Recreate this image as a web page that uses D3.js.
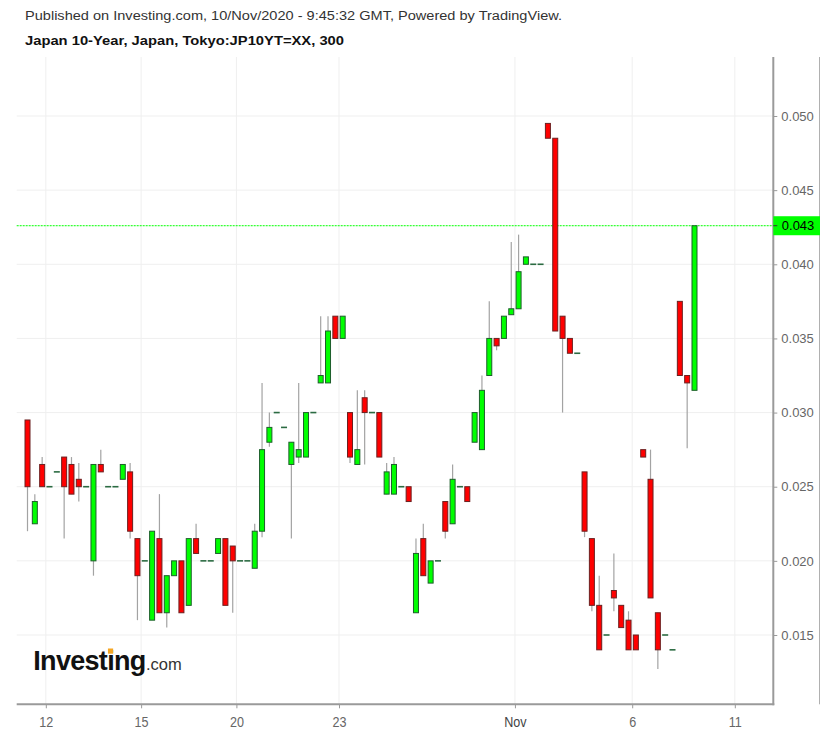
<!DOCTYPE html>
<html><head><meta charset="utf-8">
<script src="https://cdn.jsdelivr.net/npm/d3@7"></script>
<style>
body{margin:0;background:#fff}
svg{display:block;font-family:"Liberation Sans",Arial,Helvetica,sans-serif}
</style>
</head><body>
<svg id="chart" width="820" height="733"></svg>
<script>
// 300-minute candles, JP10YT=XX (index-based positions like TradingView)
const opens  = [0.0295,0.0225,0.0265,0.025,0.026,0.027,0.0265,0.0255,0.025,0.020,
                0.0265,0.025,0.025,0.0255,0.026,0.0215,0.020,0.016,0.0215,0.0165,
                0.019,0.020,0.017,0.0215,0.020,0.020,0.0205,0.0215,0.021,0.020,
                0.020,0.0195,0.022,0.028,0.030,0.029,0.0265,0.027,0.027,0.030,
                0.032,0.032,0.0365,0.035,0.030,0.0265,0.031,0.030,0.030,0.0245,
                0.0245,0.025,0.025,0.0165,0.0215,0.0185,0.020,0.024,0.0225,0.025,
                0.025,0.028,0.0275,0.0325,0.035,0.035,0.0366,0.037,0.040,0.040,
                0.040,0.0495,0.0485,0.0365,0.035,0.034,0.026,0.0215,0.017,0.015,
                0.018,0.017,0.016,0.015,0.0275,0.0255,0.0165,0.015,0.014,0.0375,
                0.0325,0.0315];
const highs  = [0.0295,0.0245,0.027,0.025,0.026,0.027,0.027,0.0266,0.025,0.0265,
                0.0275,0.025,0.025,0.0265,0.0266,0.0215,0.020,0.022,0.0245,0.019,
                0.020,0.020,0.0215,0.0225,0.020,0.020,0.0215,0.0215,0.021,0.020,
                0.020,0.0225,0.032,0.030,0.030,0.029,0.028,0.032,0.030,0.030,
                0.0365,0.0365,0.0365,0.0365,0.030,0.0315,0.0315,0.030,0.030,0.0266,
                0.027,0.025,0.025,0.0215,0.0225,0.020,0.020,0.024,0.0265,0.025,
                0.025,0.030,0.0325,0.0375,0.035,0.0365,0.0415,0.042,0.0405,0.040,
                0.040,0.0495,0.0485,0.0365,0.035,0.034,0.026,0.0215,0.019,0.015,
                0.0205,0.017,0.0166,0.015,0.0275,0.0275,0.0165,0.015,0.014,0.0375,
                0.0325,0.0426];
const lows   = [0.022,0.0225,0.025,0.025,0.026,0.0215,0.0245,0.024,0.025,0.019,
                0.026,0.025,0.025,0.0255,0.0215,0.016,0.020,0.016,0.0165,0.0155,
                0.019,0.0165,0.017,0.0205,0.020,0.020,0.0205,0.017,0.0165,0.020,
                0.020,0.0195,0.0216,0.0277,0.030,0.029,0.0215,0.0266,0.027,0.030,
                0.032,0.032,0.035,0.035,0.0266,0.0265,0.0265,0.030,0.027,0.0245,
                0.0245,0.025,0.024,0.0165,0.019,0.0185,0.020,0.0215,0.0225,0.025,
                0.024,0.028,0.0275,0.0325,0.0342,0.035,0.0366,0.037,0.040,0.040,
                0.040,0.0485,0.0355,0.030,0.034,0.034,0.0216,0.0166,0.014,0.015,
                0.0166,0.0155,0.014,0.014,0.027,0.0175,0.0127,0.015,0.014,0.0325,
                0.0276,0.0315];
const closes = [0.025,0.024,0.025,0.025,0.026,0.025,0.0245,0.025,0.025,0.0265,
                0.026,0.025,0.025,0.0265,0.022,0.019,0.020,0.022,0.0165,0.019,
                0.020,0.0165,0.0215,0.0205,0.020,0.020,0.0215,0.017,0.020,0.020,
                0.020,0.022,0.0275,0.029,0.030,0.029,0.028,0.0275,0.030,0.030,
                0.0325,0.0355,0.035,0.0365,0.027,0.0275,0.030,0.030,0.027,0.026,
                0.0265,0.025,0.024,0.0205,0.019,0.020,0.020,0.022,0.0255,0.025,
                0.024,0.030,0.0315,0.035,0.0345,0.0365,0.037,0.0395,0.0405,0.040,
                0.040,0.0485,0.0355,0.035,0.034,0.034,0.022,0.017,0.014,0.015,
                0.0175,0.0155,0.014,0.014,0.027,0.0175,0.014,0.015,0.014,0.0325,
                0.032,0.0426];

const xTickLabels = ["12","15","20","23","Nov","6","11"];
const xTickIndex  = [2.5,15.5,28.5,42.5,66.5,82.5,96.5];
const yTickValues = [0.015,0.020,0.025,0.030,0.035,0.040,0.045,0.050];

const headerLine1 = "Published on Investing.com, 10/Nov/2020 - 9:45:32 GMT, Powered by TradingView.";
const headerLine2 = "Japan 10-Year, Japan, Tokyo:JP10YT=XX, 300";

const candles = opens.map((o,i)=>({i, o, h:highs[i], l:lows[i], c:closes[i]}));

const svg = d3.select("#chart");
const plot = {left:16.7, right:773.3, top:57, bottom:704.3};

const x = d3.scaleLinear().domain([0, candles.length-1]).range([27.5, 694.5]);
const y = d3.scaleLinear().domain([0.015, 0.050]).range([635, 116]);

svg.append("rect").attr("width",820).attr("height",733).attr("fill","#fff");

// header
svg.append("text").attr("x",25).attr("y",19.5).attr("font-size",12.5).attr("fill","#333")
  .attr("textLength",537).attr("lengthAdjust","spacingAndGlyphs").text(headerLine1);
svg.append("text").attr("x",25).attr("y",44.5).attr("font-size",12).attr("font-weight","bold").attr("fill","#111")
  .attr("textLength",319).attr("lengthAdjust","spacingAndGlyphs").text(headerLine2);

// grid
const grid = svg.append("g");
grid.selectAll("line.h").data(yTickValues).join("line")
  .attr("x1",plot.left).attr("x2",plot.right)
  .attr("y1",d=>y(d)).attr("y2",d=>y(d))
  .attr("stroke","#efefef").attr("stroke-width",1);
grid.selectAll("line.v").data(xTickIndex).join("line")
  .attr("x1",d=>x(d)).attr("x2",d=>x(d))
  .attr("y1",plot.top).attr("y2",plot.bottom)
  .attr("stroke","#efefef").attr("stroke-width",1);

// logo
const logo = svg.append("g");
const inv = logo.append("text").attr("x",33.3).attr("y",669.5).attr("font-size",27)
  .attr("font-weight","bold").attr("letter-spacing",-0.7).attr("fill","#111").text("Investing");
const invLen = inv.node().getComputedTextLength();
logo.append("text").attr("x",33.3+invLen+0.5).attr("y",669.5).attr("font-size",16.5)
  .attr("fill","#333").text(".com");
try {
  const ext = inv.node().getExtentOfChar(6);
  logo.append("rect").attr("x",ext.x+ext.width/2-2.6).attr("y",648.5).attr("width",5.2).attr("height",5.2)
    .attr("fill","#f5a623");
} catch(e) {}

// current price line
const last = candles[candles.length-1];
svg.append("line").attr("x1",plot.left).attr("x2",plot.right)
  .attr("y1",y(last.c)).attr("y2",y(last.c))
  .attr("stroke","#00ff00").attr("stroke-width",1).attr("stroke-dasharray","2,1");

// candles
const g = svg.append("g");
const bw = 5;
const regular = candles.filter(d=>d.o!==d.c);
const dojis = candles.filter(d=>d.o===d.c);
g.selectAll("line.wick").data(regular.filter(d=>d.h>Math.max(d.o,d.c)||d.l<Math.min(d.o,d.c))).join("line")
  .attr("x1",d=>x(d.i)).attr("x2",d=>x(d.i))
  .attr("y1",d=>y(d.h)).attr("y2",d=>y(d.l))
  .attr("stroke","#a3a3a3").attr("stroke-width",1.2);
g.selectAll("rect.body").data(regular).join("rect")
  .attr("x",d=>x(d.i)-bw/2)
  .attr("y",d=>y(Math.max(d.o,d.c)))
  .attr("width",bw)
  .attr("height",d=>Math.max(1,Math.abs(y(d.o)-y(d.c))))
  .attr("fill",d=>d.c>d.o?"#00ff00":"#ff0000")
  .attr("stroke",d=>d.c>d.o?"#1d5e2b":"#6b2020")
  .attr("stroke-width",1);
g.selectAll("line.doji").data(dojis).join("line")
  .attr("x1",d=>x(d.i)-3).attr("x2",d=>x(d.i)+3)
  .attr("y1",d=>y(d.c)).attr("y2",d=>y(d.c))
  .attr("stroke","#2b6b42").attr("stroke-width",1.6);

// axes lines
svg.append("line").attr("x1",plot.left).attr("x2",plot.right+1).attr("y1",plot.bottom).attr("y2",plot.bottom)
  .attr("stroke","#9a9a9a").attr("stroke-width",2);
svg.append("line").attr("x1",plot.right).attr("x2",plot.right).attr("y1",plot.top).attr("y2",plot.bottom+1)
  .attr("stroke","#9a9a9a").attr("stroke-width",2);
svg.append("line").attr("x1",819.5).attr("x2",819.5).attr("y1",plot.top).attr("y2",plot.bottom)
  .attr("stroke","#b0b0b0").attr("stroke-width",1);

// y axis (right)
const yAxis = d3.axisRight(y).tickValues(yTickValues).tickFormat(d3.format(".3f")).tickSize(4).tickPadding(4);
const ya = svg.append("g").attr("transform",`translate(${plot.right},0)`).call(yAxis);
ya.select(".domain").remove();
ya.selectAll(".tick line").attr("stroke","#9a9a9a");
ya.selectAll(".tick text").attr("fill","#666").attr("font-size",13)
  .attr("font-family","'Liberation Sans',Arial,sans-serif");

// x axis (bottom)
const xAxis = d3.axisBottom(x).tickValues(xTickIndex).tickFormat((d,k)=>xTickLabels[k]).tickSize(4).tickPadding(0);
const xa = svg.append("g").attr("transform",`translate(0,${plot.bottom})`).call(xAxis);
xa.select(".domain").remove();
xa.selectAll(".tick line").attr("stroke","#9a9a9a");
xa.selectAll(".tick text").attr("fill",(d,k)=>xTickLabels[k]==="Nov"?"#444":"#666")
  .attr("font-size",15).attr("dy",0).attr("y",23)
  .attr("font-family","'Liberation Sans',Arial,sans-serif")
  .attr("transform","scale(0.84,1)")
  .attr("x",function(d){return 0;});
// keep narrow labels centred: scale applied around tick origin
xa.selectAll(".tick text").attr("text-anchor","middle");

// price label
const py = y(last.c);
svg.append("rect").attr("x",plot.right).attr("y",py-9.5).attr("width",820-plot.right).attr("height",19)
  .attr("fill","#00ff00");
svg.append("line").attr("x1",plot.right).attr("x2",plot.right+4).attr("y1",py).attr("y2",py)
  .attr("stroke","#333").attr("stroke-width",1);
svg.append("text").attr("x",plot.right+8.5).attr("y",py+4.6).attr("font-size",13).attr("fill","#000")
  .text(d3.format(".3f")(last.c));
</script>
</body></html>
